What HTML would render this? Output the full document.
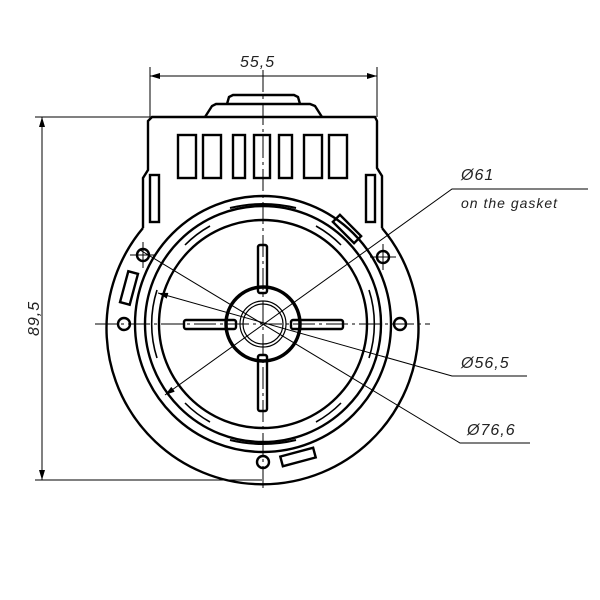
<!DOCTYPE html>
<html><head><style>body{margin:0;background:#fff}svg{display:block}</style></head><body>
<svg width="600" height="600" viewBox="0 0 600 600" xmlns="http://www.w3.org/2000/svg" font-family="Liberation Sans, sans-serif">
<defs>
<marker id="a" viewBox="0 0 10 6" refX="10" refY="3" markerWidth="10" markerHeight="6" orient="auto-start-reverse" markerUnits="userSpaceOnUse"><path d="M0,0L10,3L0,6z" fill="#000"/></marker>
</defs>
<g fill="none" stroke="#000" stroke-width="2.4">
<path d="M143,228 L143,178 L148,170 L148,121 L152,117 L375,117 L377,121 L377,168 L382,176 L382,228"/>
<path d="M205,117 L212,106 L216,104 L310,104 L315,106 L322,117"/>
<path d="M227,104 L229,97 L233,95 L294,95 L298,97 L300,104"/>
<rect x="178" y="135" width="18" height="43"/><rect x="203" y="135" width="18" height="43"/>
<rect x="233" y="135" width="12" height="43"/><rect x="254" y="135" width="16" height="43"/>
<rect x="279" y="135" width="13" height="43"/><rect x="304" y="135" width="18" height="43"/>
<rect x="329" y="135" width="18" height="43"/>
<rect x="150" y="175" width="9" height="47"/><rect x="366" y="175" width="9" height="47"/>
<path d="M143,228 A156,156 0 1 0 382,228"/>
<circle cx="263" cy="324" r="128"/>
<circle cx="263" cy="324" r="118"/>
<circle cx="263" cy="324" r="104"/>
<path d="M230,208 Q263,200 296,208" stroke-width="2"/>
<path d="M230,440 Q263,448 296,440" stroke-width="2"/>
<g stroke-width="1.6">
<path d="M157,290 A111,111 0 0 0 157,358"/>
<path d="M369,290 A111,111 0 0 1 369,358"/>
<path d="M185,245 A111,111 0 0 1 210,226"/>
<path d="M316,226 A111,111 0 0 1 341,245"/>
<path d="M185,403 A111,111 0 0 0 210,422"/>
<path d="M316,422 A111,111 0 0 0 341,403"/>
</g>
<circle cx="263" cy="324" r="37" stroke-width="3.5"/>
<circle cx="263" cy="324" r="23" stroke-width="1.2"/>
<circle cx="263" cy="324" r="20" stroke-width="1.2"/>
<rect x="258" y="245" width="9" height="48" rx="2"/>
<rect x="258" y="355" width="9" height="56" rx="2"/>
<rect x="184" y="320" width="52" height="9" rx="2"/>
<rect x="291" y="320" width="52" height="9" rx="2"/>
<circle cx="124" cy="324" r="6"/><circle cx="400" cy="324" r="6"/>
<circle cx="263" cy="462" r="6"/><circle cx="143" cy="255" r="6"/><circle cx="383" cy="257" r="6"/>
<rect x="124" y="272" width="10" height="32" transform="rotate(15 129 288)"/>
<rect x="281" y="452" width="34" height="10" transform="rotate(-15 298 457)"/>
<rect x="342" y="214" width="10" height="30" transform="rotate(-45 347 229)"/>
</g>
<g fill="none" stroke="#000" stroke-width="1">
<line x1="263" y1="70" x2="263" y2="490" stroke-dasharray="22,4,3,4"/>
<line x1="95" y1="324" x2="430" y2="324" stroke-dasharray="22,4,3,4"/>
<line x1="370" y1="257" x2="396" y2="257"/><line x1="383" y1="244" x2="383" y2="270"/>
<line x1="130" y1="255" x2="156" y2="255"/><line x1="143" y1="242" x2="143" y2="268"/>
<line x1="150" y1="67" x2="150" y2="117"/><line x1="377" y1="67" x2="377" y2="117"/>
<line x1="150" y1="76" x2="377" y2="76" marker-start="url(#a)" marker-end="url(#a)"/>
<line x1="35" y1="117" x2="150" y2="117"/><line x1="35" y1="480" x2="262" y2="480"/>
<line x1="42" y1="117" x2="42" y2="480" marker-start="url(#a)" marker-end="url(#a)"/>
<polyline points="588,189 452,189 165,395" marker-end="url(#a)"/>
<polyline points="527,376 452,376 158,293" marker-end="url(#a)"/>
<polyline points="530,443 460,443 140,250"/>
</g>
<g font-size="16" font-style="italic" fill="#222" letter-spacing="1">
<text x="240" y="67">55,5</text>
<text x="0" y="0" transform="translate(39,336) rotate(-90)">89,5</text>
<text x="461" y="180">Ø61</text>
<text x="461" y="208" font-size="14">on the gasket</text>
<text x="461" y="368">Ø56,5</text>
<text x="467" y="435">Ø76,6</text>
</g>
</svg>
</body></html>
